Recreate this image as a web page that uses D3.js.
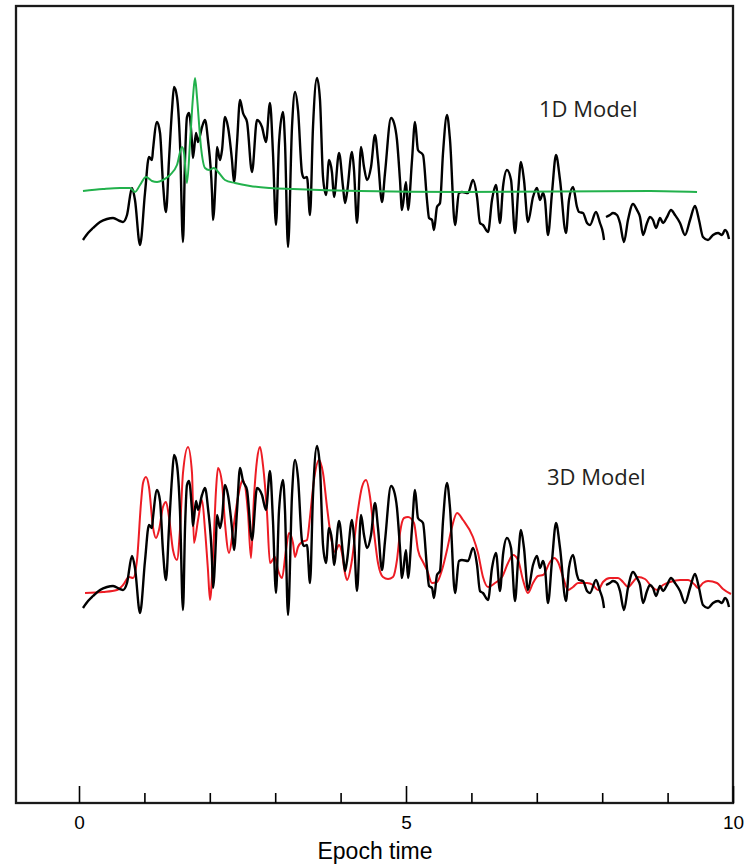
<!DOCTYPE html>
<html>
<head>
<meta charset="utf-8">
<script src="https://cdn.jsdelivr.net/npm/d3@7"></script>
<style>
  html, body { margin: 0; padding: 0; background: #fff; }
  svg { display: block; }
</style>
</head>
<body>
<svg id="chart" width="755" height="866"></svg>
<script>
// ---------- DATA ----------
// Observed record (black), shared by both panels
const blackT = [0.061,0.138,0.214,0.321,0.428,0.520,0.627,0.673,0.734,0.810,0.856,0.933,1.009,1.070,1.116,1.131,1.193,1.239,1.284,1.330,1.376,1.422,1.453,1.498,1.544,1.590,1.621,1.651,1.682,1.728,1.743,1.789,1.820,1.881,1.927,1.972,2.034,2.049,2.095,2.110,2.156,2.187,2.232,2.278,2.339,2.370,2.416,2.462,2.508,2.569,2.645,2.722,2.798,2.859,2.920,2.966,3.012,3.058,3.119,3.150,3.196,3.257,3.303,3.349,3.410,3.440,3.486,3.532,3.578,3.639,3.685,3.731,3.777,3.823,3.869,3.899,3.976,4.037,4.067,4.098,4.174,4.205,4.251,4.312,4.358,4.404,4.465,4.526,4.572,4.633,4.679,4.771,4.817,4.862,4.908,4.939,5.000,5.031,5.092,5.138,5.183,5.260,5.321,5.352,5.398,5.428,5.474,5.520,5.566,5.627,5.673,5.749,5.810,5.856,5.948,6.024,6.086,6.131,6.177,6.254,6.315,6.376,6.437,6.483,6.544,6.606,6.667,6.713,6.758,6.804,6.865,6.942,7.003,7.049,7.095,7.125,7.171,7.232,7.294,7.355,7.446,7.492,7.554,7.615,7.645,7.706,7.768,7.813,7.905,7.966,8.012,8.028,8.043,8.058,8.119,8.165,8.226,8.272,8.333,8.394,8.471,8.532,8.578,8.624,8.685,8.731,8.777,8.823,8.884,8.930,8.991,9.052,9.113,9.190,9.266,9.343,9.419,9.480,9.541,9.618,9.694,9.771,9.832,9.878,9.908,9.939];
const blackV = [-5.0,-4.3,-3.8,-3.2,-2.9,-2.8,-3.1,-3.2,-2.5,0.2,-1.0,-5.5,-0.3,3.3,3.0,4.0,6.8,5.7,0.7,-2.2,3.0,8.0,10.3,9.3,4.7,-5.2,3.0,7.3,7.7,4.7,3.2,5.7,4.8,6.3,7.0,5.0,-0.3,-3.0,2.0,4.3,3.0,4.0,7.3,6.3,3.0,0.8,4.7,9.0,7.7,6.8,1.8,7.0,6.3,4.8,8.7,3.7,-3.5,4.7,7.8,4.7,-5.7,6.3,9.8,8.0,1.7,1.2,1.3,-2.5,6.3,11.2,9.0,1.3,-0.5,3.0,1.7,-0.7,3.7,0.3,-1.3,-0.3,3.8,2.0,-3.3,4.3,2.3,1.0,2.3,5.5,3.0,-1.2,1.7,7.2,6.7,5.0,1.0,-2.0,0.8,-2.0,3.0,6.8,4.0,3.5,-1.0,-2.8,-3.0,-4.0,-1.7,-1.3,3.7,7.5,5.0,-3.5,-0.3,-0.2,-0.3,1.0,-0.7,-3.3,-3.5,-4.2,-1.0,0.5,-3.3,0.3,2.0,1.0,-4.3,-0.3,2.8,1.0,-3.2,-0.7,0.2,-1.0,-0.3,-1.0,-4.5,-0.3,3.5,1.0,-4.3,-1.0,0.3,-1.7,-2.2,-2.3,-3.3,-3.5,-2.2,-3.3,-4.3,-5.0,null,-2.7,-2.5,-2.3,-2.5,-3.3,-5.2,-3.0,-1.4,-2.0,-2.7,-4.5,-3.3,-2.7,-3.0,-3.8,-2.8,-3.3,-2.7,-2.0,-2.5,-3.3,-4.5,-3.0,-1.6,-3.0,-4.7,-5.0,-4.5,-4.3,-4.5,-4.0,-4.2,-4.9];

// 1D model synthetic (green)
const greenT = [0.061,0.367,0.627,0.780,0.856,0.933,1.024,1.116,1.193,1.284,1.391,1.498,1.575,1.606,1.651,1.697,1.743,1.774,1.804,1.865,1.927,1.988,2.064,2.141,2.232,2.385,2.615,2.920,3.272,4.297,5.826,8.731,9.450];
const greenV = [-0.1,0.1,0.2,0.2,-0.2,0.5,1.3,0.9,0.8,1.0,1.5,2.5,4.3,3.7,0.7,4.7,9.3,11.2,9.3,4.3,2.2,2.0,2.2,1.7,1.0,0.7,0.4,0.2,0.1,-0.1,-0.2,-0.1,-0.2];

// 3D model synthetic (red)
const redT = [0.092,0.367,0.581,0.673,0.765,0.826,0.887,0.948,0.979,1.024,1.070,1.131,1.177,1.223,1.284,1.330,1.376,1.437,1.498,1.544,1.590,1.667,1.728,1.758,1.820,1.881,1.927,1.972,2.003,2.049,2.095,2.125,2.187,2.232,2.294,2.355,2.431,2.508,2.584,2.630,2.676,2.722,2.768,2.813,2.875,2.920,2.997,3.043,3.104,3.165,3.211,3.272,3.303,3.349,3.410,3.486,3.532,3.593,3.670,3.731,3.792,3.853,3.914,3.976,4.021,4.067,4.098,4.174,4.251,4.327,4.388,4.450,4.495,4.572,4.648,4.725,4.801,4.862,4.908,4.969,5.031,5.122,5.183,5.260,5.321,5.398,5.474,5.550,5.627,5.703,5.780,5.872,6.024,6.101,6.177,6.254,6.361,6.468,6.560,6.636,6.713,6.789,6.865,6.942,7.018,7.095,7.202,7.263,7.324,7.401,7.477,7.554,7.630,7.768,7.859,7.936,8.012,8.119,8.242,8.318,8.394,8.471,8.547,8.654,8.761,8.838,8.930,9.037,9.190,9.312,9.419,9.465,9.541,9.618,9.755,9.847,9.969];
const redV = [-3.5,-3.4,-3.2,-2.7,-1.9,-2.0,-0.2,5.5,7.5,8.1,7.1,3.1,2.0,2.8,5.1,5.6,4.1,0.8,-0.2,2.8,8.5,11.1,8.5,1.5,3.8,5.8,2.8,-1.2,-4.2,0.1,6.8,9.0,7.5,3.5,0.5,2.8,6.1,7.8,4.5,0.0,6.1,9.8,11.1,9.3,4.5,-0.5,0.1,-1.2,-2.0,0.8,2.5,1.5,0.1,1.1,1.6,1.8,4.1,7.8,9.8,8.5,5.1,2.1,0.6,1.3,0.5,-1.5,-2.2,-0.2,4.1,7.1,7.8,6.1,3.5,-0.5,-1.9,-2.1,-1.9,-0.2,2.5,4.0,4.1,3.5,0.8,-0.4,-1.2,-2.5,-2.4,-1.2,0.8,3.1,4.5,3.8,2.1,0.5,-1.9,-2.9,-2.5,-1.9,-0.5,0.3,-0.2,-2.2,-3.5,-2.5,-1.8,-1.7,-0.4,0.0,-0.4,-1.9,-3.2,-2.9,-2.5,-2.5,-2.7,-3.2,-2.4,-2.0,-2.0,-2.4,-2.9,-2.4,-1.9,-2.1,-2.9,-3.2,-2.7,-2.4,-2.2,-2.2,-2.7,-3.0,-2.5,-2.3,-2.5,-3.1,-3.6];

const panelLabels = ["1D Model", "3D Model"];
const allTicks = [0,1,2,3,4,5,6,7,8,9,10];
const majorTicks = [0,5,10];
const xTitle = "Epoch time";

// ---------- LAYOUT ----------
const svg = d3.select("#chart");
const x = d3.scaleLinear().domain([0, 10]).range([79, 733]);
const yTop = d3.scaleLinear().domain([-5, 12]).range([240, 70]);
const yBot = d3.scaleLinear().domain([-5, 12]).range([608, 438]);

const zip = (t, v) => t.map((d, i) => [d, v[i]]);
const blackData = zip(blackT, blackV);
const greenData = zip(greenT, greenV);
const redData = zip(redT, redV);

function lineFor(y) {
  return d3.line()
    .defined(d => d[1] != null)
    .x(d => x(d[0]))
    .y(d => y(d[1]))
    .curve(d3.curveMonotoneX);
}

// frame
svg.append("rect")
  .attr("x", 16).attr("y", 6)
  .attr("width", 733 - 16).attr("height", 803 - 6)
  .attr("fill", "none").attr("stroke", "#1a1a1a").attr("stroke-width", 2.3);

// top panel
svg.append("path").datum(blackData)
  .attr("d", lineFor(yTop))
  .attr("fill", "none").attr("stroke", "#000").attr("stroke-width", 2.4)
  .attr("stroke-linejoin", "round");
svg.append("path").datum(greenData)
  .attr("d", lineFor(yTop))
  .attr("fill", "none").attr("stroke", "#22b14c").attr("stroke-width", 2)
  .attr("stroke-linejoin", "round");

// bottom panel
svg.append("path").datum(redData)
  .attr("d", lineFor(yBot))
  .attr("fill", "none").attr("stroke", "#ed1c24").attr("stroke-width", 2)
  .attr("stroke-linejoin", "round");
svg.append("path").datum(blackData)
  .attr("d", lineFor(yBot))
  .attr("fill", "none").attr("stroke", "#000").attr("stroke-width", 2.4)
  .attr("stroke-linejoin", "round");

// panel labels
svg.append("text").attr("x", 539).attr("y", 117)
  .attr("font-family", "'Open Sans', sans-serif").attr("font-size", 22)
  .attr("fill", "#231f20").text(panelLabels[0]);
svg.append("text").attr("x", 547).attr("y", 485)
  .attr("font-family", "'Open Sans', sans-serif").attr("font-size", 22)
  .attr("fill", "#231f20").text(panelLabels[1]);

// axis: minor ticks
const minorAxis = d3.axisBottom(x)
  .tickValues(allTicks.filter(t => !majorTicks.includes(t)))
  .tickSizeInner(-10).tickSizeOuter(0).tickFormat("");
const gMinor = svg.append("g").attr("transform", "translate(0,803)").call(minorAxis);
gMinor.select(".domain").remove();
gMinor.selectAll(".tick line").attr("stroke", "#000").attr("stroke-width", 1.6);

// axis: major ticks with labels
const majorAxis = d3.axisBottom(x)
  .tickValues(majorTicks)
  .tickSizeInner(-17).tickSizeOuter(0).tickPadding(13)
  .tickFormat(d3.format("d"));
const gMajor = svg.append("g").attr("transform", "translate(0,803)").call(majorAxis);
gMajor.select(".domain").remove();
gMajor.selectAll(".tick line").attr("stroke", "#000").attr("stroke-width", 1.6);
gMajor.selectAll(".tick text")
  .attr("font-family", "'Liberation Sans', Arial, sans-serif")
  .attr("font-size", 19).attr("fill", "#000");

// x title
svg.append("text")
  .attr("x", 375).attr("y", 859)
  .attr("text-anchor", "middle")
  .attr("font-family", "'Liberation Sans', Arial, sans-serif")
  .attr("font-size", 23).attr("fill", "#000")
  .text(xTitle);
</script>
</body>
</html>
